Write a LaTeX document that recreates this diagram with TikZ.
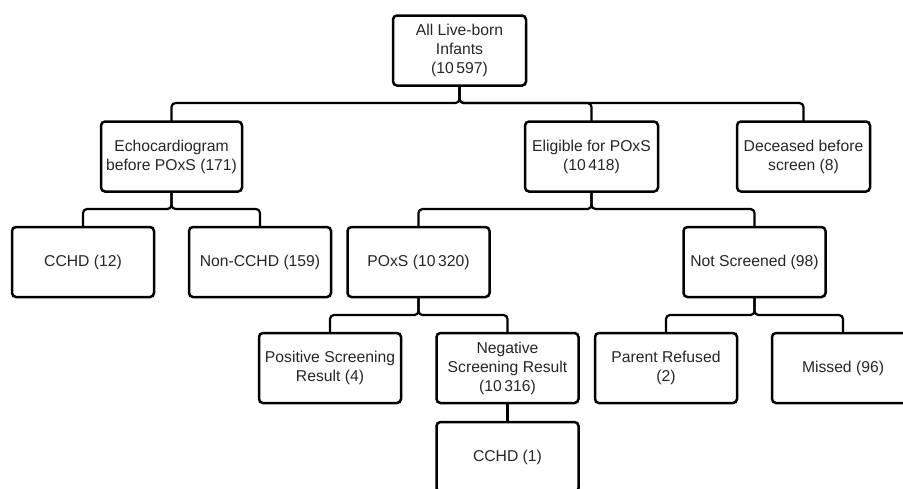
\documentclass[tikz,border=0pt]{standalone}
\usepackage{fontspec}
\setmainfont{Liberation Sans}
\usepackage{tikz}
\usetikzlibrary{positioning,calc}
\tikzset{
  box/.style={draw, rounded corners=4pt, align=center, line width=2.5pt,
              font=\fontsize{15.7}{19}\selectfont, text=black!85,
              minimum width=142pt, minimum height=70pt, inner sep=0pt, outer sep=0pt},
  narrow/.style={box, minimum width=133pt},
  link/.style={line width=2.2pt, rounded corners=4pt},
}

\begin{document}
\begin{tikzpicture}[x=1pt, y=-1pt]
  \useasboundingbox (0,0) rectangle (903,488);
  \clip (0,0) rectangle (903,488);
  % levels of the tree
  \node[narrow] (root) at (459.5,50.5) {All Live-born\\Infants\\(10\,597)};
  \node[box, minimum width=141pt] (echo) at (171.5,156.5) {Echocardiogram\\before POxS (171)};
  \node[narrow] (elig) at (591.5,156.5) {Eligible for POxS\\(10\,418)};
  \node[narrow] (dead) at (803.5,156.5) {Deceased before\\screen (8)};
  \node[box] (cchd) at (83,262) {CCHD (12)};
  \node[box] (noncchd) at (260,262) {Non-CCHD (159)};
  \node[box] (poxs) at (418.5,262) {POxS (10\,320)};
  \node[box] (notscr) at (754.5,262) {Not Screened (98)};
  \node[box] (pos) at (330,368) {Positive Screening\\Result (4)};
  \node[box] (neg) at (507.5,368) {Negative\\Screening Result\\(10\,316)};
  \node[box] (refused) at (666,368) {Parent Refused\\(2)};
  \node[box] (missed) at (843,368) {Missed (96)};
  \node[box, below=19pt of neg] (cchdone) {CCHD (1)};
  % bus heights
  \coordinate (busA) at (0,103);
  \coordinate (busB) at (0,209);
  \coordinate (busC) at (0,315);
  \foreach \x in {echo,elig,dead} \draw[link] (root.south) -- (root.south |- busA) -| (\x.north);
  \foreach \x in {cchd,noncchd} \draw[link] (echo.south) -- (echo.south |- busB) -| (\x.north);
  \foreach \x in {poxs,notscr} \draw[link] (elig.south) -- (elig.south |- busB) -| (\x.north);
  \foreach \x in {pos,neg} \draw[link] (poxs.south) -- (poxs.south |- busC) -| (\x.north);
  \foreach \x in {refused,missed} \draw[link] (notscr.south) -- (notscr.south |- busC) -| (\x.north);
  \draw[link] (neg.south) -- (cchdone.north);
\end{tikzpicture}
\end{document}
